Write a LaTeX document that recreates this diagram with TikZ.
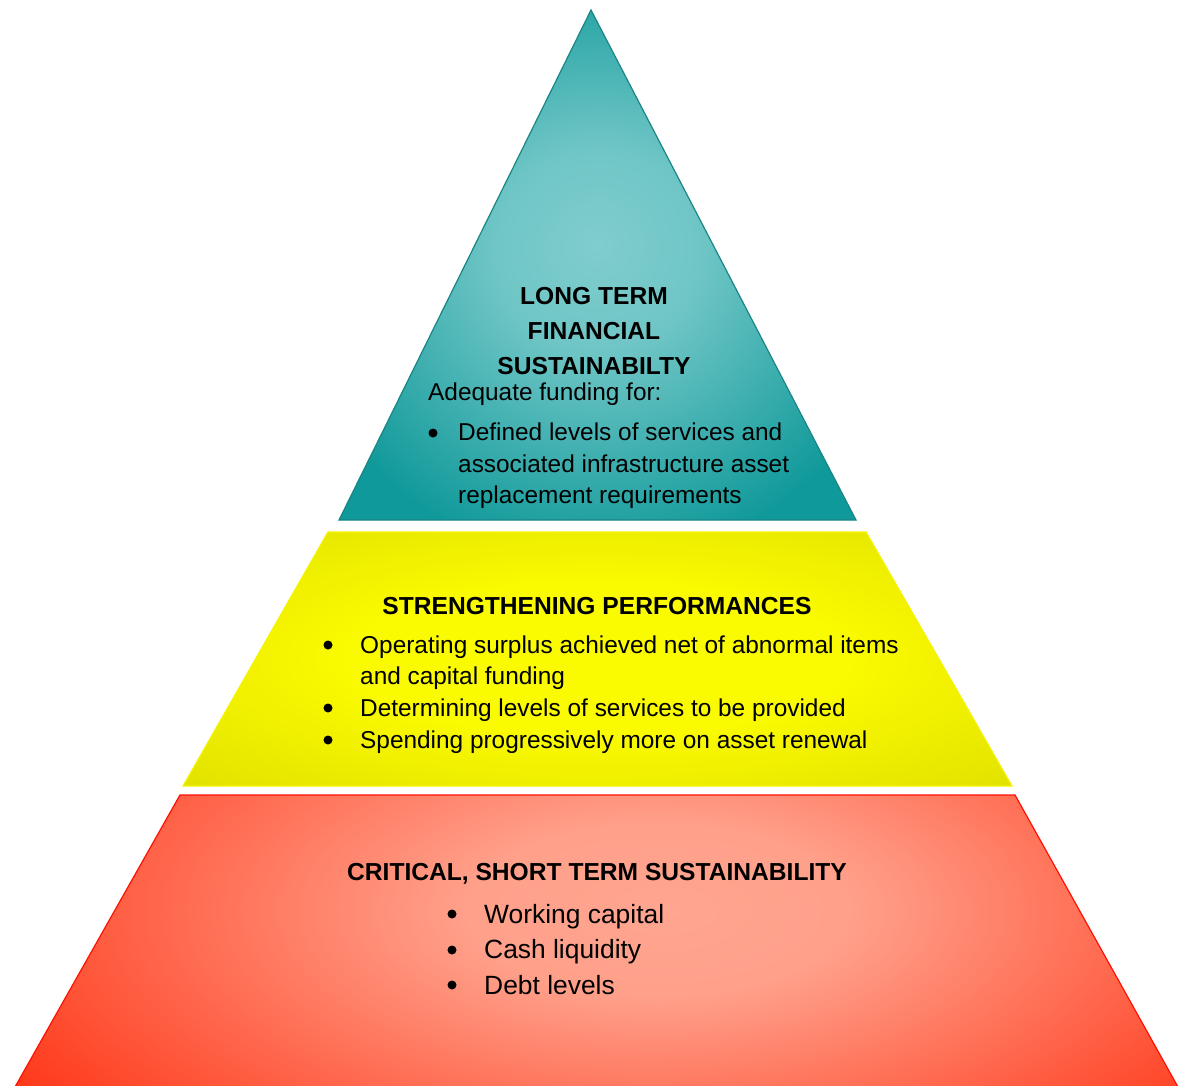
\documentclass[tikz,border=0pt]{standalone}
\usepackage{fontspec}
\setmainfont{Liberation Sans}
\definecolor{tlight}{HTML}{80CDCD}
\definecolor{tdark}{HTML}{10999A}
\definecolor{tline}{HTML}{1B8585}
\definecolor{ylight}{HTML}{FAFA00}
\definecolor{ydark}{HTML}{E2E200}
\definecolor{yline}{HTML}{F4F400}
\definecolor{rlight}{HTML}{FFA590}
\definecolor{rdark}{HTML}{FF3A1C}
\definecolor{rline}{HTML}{FF1000}
\pgfdeclareradialshading{tealsh}{\pgfpoint{0bp}{2bp}}{color(0bp)=(tlight); color(10bp)=(tlight!85!tdark); color(30bp)=(tdark); color(50bp)=(tdark)}
\pgfdeclareradialshading{yelsh}{\pgfpoint{0bp}{0bp}}{color(0bp)=(ylight); color(15bp)=(ylight); color(35bp)=(ydark); color(50bp)=(ydark)}
\pgfdeclareradialshading{redsh}{\pgfpoint{2bp}{0bp}}{color(0bp)=(rlight); color(8bp)=(rlight!95!rdark); color(30bp)=(rdark); color(50bp)=(rdark)}
\begin{document}
\begin{tikzpicture}[x=1pt,y=-1pt,
  tier/.style={line width=1.2pt, line join=miter},
  body/.style={anchor=base west, inner sep=0pt, font=\fontsize{24.4}{29}\selectfont},
  bodyr/.style={anchor=base west, inner sep=0pt, font=\fontsize{26.4}{31}\selectfont},
  ttl/.style={anchor=base, inner sep=0pt, font=\fontsize{24.6}{29}\selectfont\bfseries},
  bul/.style={circle, fill=black, inner sep=0pt, minimum size=9pt}]
\useasboundingbox (0,0) rectangle (1178,1086);
% tiers
\path[tier, draw=tline, shading=tealsh] (591,10) -- (856,520) -- (339,520) -- cycle;
\path[tier, draw=yline, shading=yelsh] (328,532) -- (866,532) -- (1012,786) -- (183,786) -- cycle;
\begin{scope}
  \clip (180,795) -- (1015,795) -- (1178,1087) -- (15,1087) -- cycle;
  \shade[shading=redsh] (15,640) rectangle (1220,1180);
\end{scope}
\draw[tier, draw=rline] (180,795) -- (1015,795) -- (1178,1087) -- (15,1087) -- cycle;
% teal text
\node[ttl] (t1) at (594,304) {LONG TERM};
\node[ttl] (t2) at (594,339) {FINANCIAL};
\node[ttl] (t3) at (594,374) {SUSTAINABILTY};
\node[body] (t4) at (428,400) {Adequate funding for:};
\node[bul] (tb1) at (433,433) {};
\node[body] (t5) at (458,440) {Defined levels of services and};
\node[body] (t6) at (458,472) {associated infrastructure asset};
\node[body] (t7) at (458,503) {replacement requirements};
% yellow text
\node[ttl] (y1) at (597,614) {STRENGTHENING PERFORMANCES};
\node[bul] (yb1) at (328,645) {};
\node[body] (y2) at (360,653) {Operating surplus achieved net of abnormal items};
\node[body] (y3) at (360,684) {and capital funding};
\node[bul] (yb2) at (328,708) {};
\node[body] (y4) at (360,716) {Determining levels of services to be provided};
\node[bul] (yb3) at (328,740) {};
\node[body] (y5) at (360,748) {Spending progressively more on asset renewal};
% red text
\node[ttl] (r1) at (597,880) {CRITICAL, SHORT TERM SUSTAINABILITY};
\node[bul] (rb1) at (452,914) {};
\node[bodyr] (r2) at (484,923) {Working capital};
\node[bul] (rb2) at (452,950) {};
\node[bodyr] (r3) at (484,958) {Cash liquidity};
\node[bul] (rb3) at (452,985) {};
\node[bodyr] (r4) at (484,994) {Debt levels};
\end{tikzpicture}
\end{document}
